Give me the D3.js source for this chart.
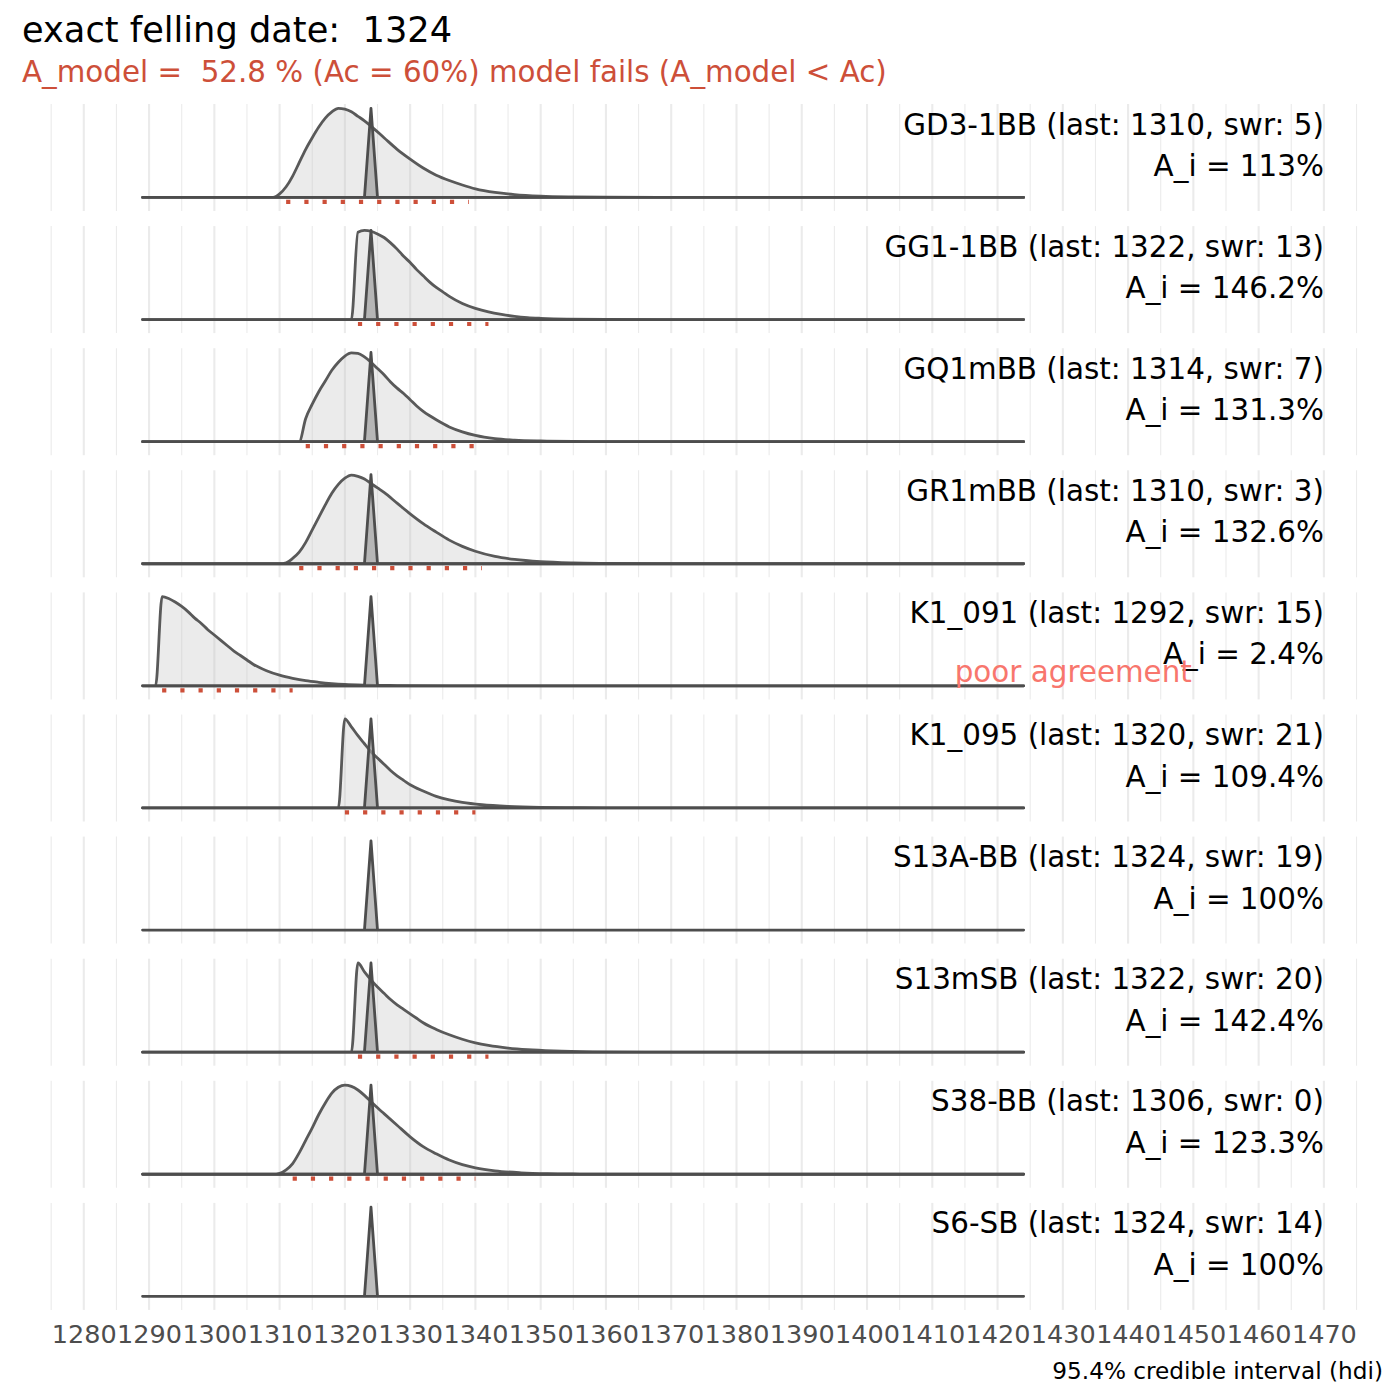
<!DOCTYPE html>
<html>
<head>
<meta charset="utf-8">
<script src="https://cdn.jsdelivr.net/npm/d3@7"></script>
<style>
  html, body { margin: 0; padding: 0; background: #ffffff; }
  svg { display: block; font-family: "DejaVu Sans", sans-serif; }
  text { white-space: pre; }
</style>
</head>
<body>
<svg id="chart" width="1400" height="1400"></svg>
<script>
// ---------------- data ----------------
const titleText = "exact felling date:  1324";
const subtitleText = "A_model =  52.8 % (Ac = 60%) model fails (A_model < Ac)";
const captionText = "95.4% credible interval (hdi)";
const poorText = "poor agreement";

const fellingDate = 1324;
const samples   = ["GD3-1BB", "GG1-1BB", "GQ1mBB", "GR1mBB", "K1_091", "K1_095", "S13A-BB", "S13mSB", "S38-BB", "S6-SB"];
const lastRing  = [1310, 1322, 1314, 1310, 1292, 1320, 1324, 1322, 1306, 1324];
const swr       = [5, 13, 7, 3, 15, 21, 19, 20, 0, 14];
const agreement = ["113", "146.2", "131.3", "132.6", "2.4", "109.4", "100", "142.4", "123.3", "100"];
const poorFlag  = [false, false, false, false, true, false, false, false, false, false];
const hdiLower  = [1311, 1322, 1314, 1313, 1292, 1320, null, 1322, 1312, null];
const hdiUpper  = [1339, 1342, 1340, 1341, 1312, 1340, null, 1342, 1340, null];

const xTicks  = [1280, 1290, 1300, 1310, 1320, 1330, 1340, 1350, 1360, 1370, 1380, 1390, 1400, 1410, 1420, 1430, 1440, 1450, 1460, 1470];
const xMinor  = [1275, 1285, 1295, 1305, 1315, 1325, 1335, 1345, 1355, 1365, 1375, 1385, 1395, 1405, 1415, 1425, 1435, 1445, 1455, 1465, 1475];
const yearRange = [1289, 1424];

// exact felling date distribution (spike), scaled to 1 at maximum
const spikeYears  = [1323, 1324, 1325];
const spikeValues = [0, 1, 0];

// per-sample felling date densities (year, scaled density)
const densGD3 = [[1309,0],[1310,0.04],[1311,0.12],[1312,0.24],[1313,0.39],[1314,0.54],[1315,0.67],[1316,0.79],[1317,0.89],[1318,0.96],[1319,1.0],[1320,0.99],[1321,0.96],[1322,0.91],[1323,0.86],[1324,0.80],[1326,0.67],[1328,0.54],[1330,0.43],[1332,0.33],[1334,0.25],[1336,0.19],[1338,0.14],[1340,0.097],[1343,0.056],[1346,0.032],[1350,0.015],[1355,0.006],[1360,0.002],[1368,0]];
const densGG1 = [[1321,0],[1322,0.98],[1323,1.0],[1324,0.99],[1325,0.96],[1326,0.92],[1327,0.86],[1328,0.79],[1329,0.71],[1330,0.64],[1331,0.56],[1332,0.49],[1333,0.42],[1334,0.36],[1335,0.31],[1336,0.26],[1338,0.18],[1340,0.125],[1342,0.085],[1344,0.057],[1346,0.036],[1348,0.022],[1350,0.014],[1354,0.005],[1360,0.0015],[1368,0]];
const densGQ1 = [[1313,0],[1314,0.26],[1315,0.42],[1316,0.56],[1317,0.68],[1318,0.80],[1319,0.89],[1320,0.96],[1321,0.995],[1322,0.99],[1323,0.95],[1324,0.89],[1325,0.82],[1326,0.75],[1327,0.67],[1328,0.60],[1329,0.54],[1330,0.47],[1331,0.40],[1332,0.34],[1333,0.29],[1334,0.245],[1336,0.165],[1338,0.11],[1340,0.07],[1343,0.034],[1346,0.017],[1350,0.007],[1355,0.002],[1362,0]];
const densGR1 = [[1310,0],[1311,0.01],[1312,0.06],[1313,0.13],[1314,0.24],[1315,0.38],[1316,0.52],[1317,0.66],[1318,0.79],[1319,0.89],[1320,0.96],[1321,0.995],[1322,0.98],[1323,0.95],[1324,0.90],[1325,0.85],[1326,0.80],[1328,0.68],[1330,0.56],[1332,0.45],[1334,0.355],[1336,0.265],[1338,0.195],[1340,0.14],[1343,0.082],[1346,0.048],[1350,0.023],[1355,0.009],[1360,0.0035],[1368,0]];
const densK091 = [[1291,0],[1292,1.0],[1293,0.98],[1294,0.94],[1295,0.89],[1296,0.83],[1297,0.76],[1298,0.70],[1299,0.63],[1300,0.57],[1301,0.51],[1302,0.45],[1303,0.39],[1304,0.34],[1305,0.29],[1306,0.24],[1308,0.17],[1310,0.12],[1312,0.085],[1314,0.058],[1316,0.04],[1318,0.026],[1320,0.016],[1323,0.008],[1328,0.003],[1336,0]];
const densK095 = [[1319,0],[1320,1.0],[1321,0.91],[1322,0.81],[1323,0.72],[1324,0.63],[1325,0.56],[1326,0.49],[1327,0.42],[1328,0.36],[1329,0.31],[1330,0.26],[1332,0.19],[1334,0.13],[1336,0.09],[1338,0.062],[1341,0.036],[1345,0.017],[1350,0.006],[1356,0.002],[1362,0]];
const densS13A = [];
const densS13m = [[1321,0],[1322,1.0],[1323,0.90],[1324,0.81],[1325,0.73],[1326,0.66],[1327,0.59],[1328,0.53],[1329,0.48],[1330,0.43],[1331,0.38],[1332,0.33],[1334,0.255],[1336,0.195],[1338,0.145],[1340,0.105],[1342,0.076],[1345,0.046],[1348,0.027],[1352,0.013],[1358,0.004],[1366,0.001],[1372,0]];
const densS38 = [[1309,0],[1310,0.01],[1311,0.05],[1312,0.12],[1313,0.24],[1314,0.38],[1315,0.52],[1316,0.67],[1317,0.80],[1318,0.91],[1319,0.975],[1320,1.0],[1321,0.985],[1322,0.945],[1323,0.885],[1324,0.815],[1325,0.745],[1326,0.68],[1328,0.55],[1330,0.42],[1332,0.31],[1334,0.23],[1336,0.16],[1338,0.108],[1340,0.072],[1343,0.038],[1347,0.016],[1351,0.006],[1356,0.002],[1362,0]];
const densS6 = [];
const densities = [densGD3, densGG1, densGQ1, densGR1, densK091, densK095, densS13A, densS13m, densS38, densS6];

const hdiLevel = -0.05;

// ---------------- drawing ----------------
const svg = d3.select("#chart");

const x = d3.scaleLinear().domain([1280, 1470]).range([83.8, 1323.9]);

const band = d3.scaleBand()
  .domain(samples)
  .range([104, 104 + 9 * 122.1 + 107])
  .paddingInner(15.1 / 122.1)
  .paddingOuter(0);

const y = d3.scaleLinear().domain([-0.152, 1.048]).range([band.bandwidth(), 0]);

// title / subtitle
svg.append("text").attr("x", 22).attr("y", 41.5)
  .attr("font-size", 35.2).attr("fill", "#000").text(titleText);
svg.append("text").attr("x", 22).attr("y", 81.5)
  .attr("font-size", 29.35).attr("fill", "#CD4F39").text(subtitleText);

const area = d3.area().x(d => x(d[0])).y0(y(0)).y1(d => y(d[1])).curve(d3.curveMonotoneX);
const spikeArea = d3.area().x(d => x(d[0])).y0(y(0)).y1(d => y(d[1])).curve(d3.curveLinear);

samples.forEach((s, i) => {
  const g = svg.append("g").attr("transform", `translate(0,${band(s)})`);

  // minor grid
  g.selectAll("line.minor").data(xMinor).join("line")
    .attr("x1", d => x(d)).attr("x2", d => x(d))
    .attr("y1", 0).attr("y2", band.bandwidth())
    .attr("stroke", "#ebebeb").attr("stroke-width", 1.1);
  // major grid
  g.selectAll("line.major").data(xTicks).join("line")
    .attr("x1", d => x(d)).attr("x2", d => x(d))
    .attr("y1", 0).attr("y2", band.bandwidth())
    .attr("stroke", "#ebebeb").attr("stroke-width", 2.1);

  // sample density
  const dens = densities[i];
  if (dens.length) {
    const pts = [[yearRange[0], 0]].concat(dens, [[yearRange[1], 0]]);
    g.append("path").datum(pts).attr("d", area)
      .attr("fill", "#bebebe").attr("fill-opacity", 0.3)
      .attr("stroke", "#595959").attr("stroke-width", 2.8)
      .attr("stroke-linejoin", "round");
  }

  // exact felling date spike with baseline
  const spk = [[yearRange[0], 0]].concat(spikeYears.map((yr, k) => [yr, spikeValues[k]]), [[yearRange[1], 0]]);
  g.append("path").datum(spk).attr("d", spikeArea)
    .attr("fill", "#9a9a9a").attr("fill-opacity", 0.65)
    .attr("stroke", "#4d4d4d").attr("stroke-width", 2.8)
    .attr("stroke-linejoin", "round");

  // hdi dotted line
  if (hdiLower[i] !== null) {
    g.append("line")
      .attr("x1", x(hdiLower[i])).attr("x2", x(hdiUpper[i]))
      .attr("y1", y(hdiLevel)).attr("y2", y(hdiLevel))
      .attr("stroke", "#CD4F39").attr("stroke-width", 4.2)
      .attr("stroke-dasharray", "4.2,14")
      .attr("stroke-linecap", "butt");
  }

  // labels
  g.append("text").attr("x", x(1470)).attr("y", 30.5)
    .attr("text-anchor", "end").attr("font-size", 29.4).attr("fill", "#000")
    .text(`${s} (last: ${lastRing[i]}, swr: ${swr[i]})`);
  g.append("text").attr("x", x(1470)).attr("y", 72)
    .attr("text-anchor", "end").attr("font-size", 29.4).attr("fill", "#000")
    .text(`A_i = ${agreement[i]}%`);
  if (poorFlag[i]) {
    g.append("text").attr("x", x(1431.6)).attr("y", 89.3)
      .attr("text-anchor", "middle").attr("font-size", 29.4).attr("fill", "#F8766D")
      .text(poorText);
  }
});

// x axis
const axis = d3.axisBottom(x).tickValues(xTicks).tickSize(0).tickPadding(0).tickFormat(d3.format("d"));
const ax = svg.append("g").attr("transform", "translate(0,1325)").call(axis);
ax.select(".domain").remove();
ax.selectAll("text").attr("font-size", 25.5).attr("fill", "#4d4d4d")
  .attr("font-family", "DejaVu Sans, sans-serif");

// caption
svg.append("text").attr("x", 1383).attr("y", 1379)
  .attr("text-anchor", "end").attr("font-size", 23.2).attr("fill", "#000")
  .text(captionText);
</script>
</body>
</html>
